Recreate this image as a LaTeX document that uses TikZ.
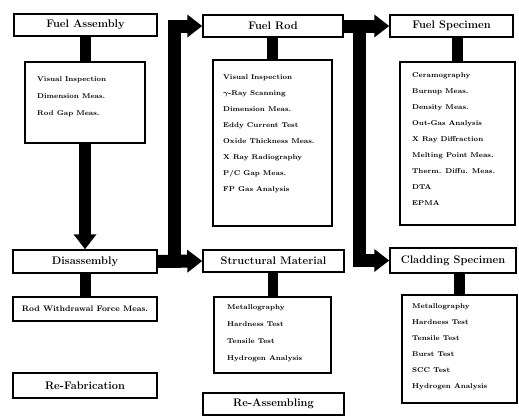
\documentclass[tikz,border=0pt]{standalone}
\usetikzlibrary{arrows.meta}
\begin{document}
\begin{tikzpicture}[x=1pt,y=-1pt,
 box/.style={draw, line width=1.5pt, rectangle, inner sep=0pt, font=\bfseries\fontsize{11}{13}\selectfont},
 list/.style={anchor=north west, inner sep=0pt, align=left, font=\bfseries\mathversion{bold}\fontsize{7}{16}\selectfont},
 bar/.style={line width=11pt},
 bigarrow/.style={line width=13pt, line join=miter, -{Triangle[length=15pt,width=22pt]}}]
\useasboundingbox (0,0) rectangle (519,416);
% left column
\node[box, minimum width=143pt, minimum height=22pt] (fa) at (85.5,25) {Fuel Assembly};
\node[box, minimum width=120pt, minimum height=81pt] (fasub) at (85,102.5) {};
\node[list, font=\bfseries\fontsize{7}{17}\selectfont] (falist) at (37,76.5) {Visual Inspection\\Dimension Meas.\\Rod Gap Meas.};
\node[box, minimum width=144pt, minimum height=23pt] (dis) at (85,261.5) {Disassembly};
\node[box, minimum width=144pt, minimum height=24pt, font=\bfseries\fontsize{8}{9}\selectfont] (rw) at (85,309) {Rod Withdrawal Force Meas.};
\node[box, minimum width=144pt, minimum height=25pt] (rf) at (85,385.5) {Re-Fabrication};
% middle column
\node[box, minimum width=140pt, minimum height=22pt] (rod) at (273,26) {Fuel Rod};
\node[box, minimum width=119pt, minimum height=166pt] (rodsub) at (272.5,143) {};
\node[list] (rodlist) at (223,74.5) {Visual Inspection\\$\gamma$-Ray Scanning\\Dimension Meas.\\Eddy Current Test\\Oxide Thickness Meas.\\X Ray Radiography\\P/C Gap Meas.\\FP Gas Analysis};
\node[box, minimum width=141pt, minimum height=22pt] (sm) at (273.5,261) {Structural Material};
\node[box, minimum width=117pt, minimum height=76pt] (smsub) at (272.5,335) {};
\node[list, font=\bfseries\fontsize{7}{17}\selectfont] (smlist) at (227,304.5) {Metallography\\Hardness Test\\Tensile Test\\Hydrogen Analysis};
\node[box, minimum width=141pt, minimum height=22pt] (ra) at (273.5,404) {Re-Assembling};
% right column
\node[box, minimum width=123pt, minimum height=22pt] (fs) at (451.5,26) {Fuel Specimen};
\node[box, minimum width=115pt, minimum height=163pt] (fssub) at (457.5,143.5) {};
\node[list] (fslist) at (412,72.5) {Ceramography\\Burnup Meas.\\Density Meas.\\Out-Gas Analysis\\X Ray Diffraction\\Melting Point Meas.\\Therm. Diffu. Meas.\\DTA\\EPMA};
\node[box, minimum width=126pt, minimum height=25pt] (cs) at (453,260.5) {Cladding Specimen};
\node[box, minimum width=115pt, minimum height=108pt] (cssub) at (459.5,349) {};
\node[list] (cslist) at (412,303.5) {Metallography\\Hardness Test\\Tensile Test\\Burst Test\\SCC Test\\Hydrogen Analysis};
% bars
\draw[bar] (fa.south -| fasub.north) -- (fasub.north);
\draw[bar] (dis.south -| rw.north) -- (rw.north);
\draw[bar] (rod.south -| rodsub.north) -- (rodsub.north);
\draw[bar, line width=10pt] (sm.south -| smsub.north) -- (smsub.north);
\draw[bar] (fs.south -| fssub.north) -- (fssub.north);
\draw[bar] (cs.south -| cssub.north) -- (cssub.north);
% big arrows
\coordinate (j1) at (174.5,261.5);
\coordinate (j2) at (359,26);
\draw[bigarrow, line width=12pt] (fasub.south) -- (dis.north);
\draw[bigarrow] (dis.east) -- (j1) |- (rod.west);
\draw[bigarrow] (dis.east) -- (sm.west);
\draw[bigarrow] (rod.east) -- (fs.west);
\draw[bigarrow] (j2) |- (cs.west);
\end{tikzpicture}
\end{document}
